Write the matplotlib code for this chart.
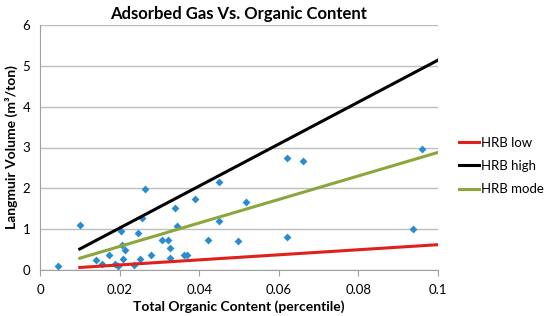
import matplotlib
matplotlib.use("Agg")
import matplotlib.pyplot as plt

plt.rcParams['font.family'] = ['Lato', 'DejaVu Sans']

toc = [0.0044, 0.0100, 0.0141, 0.0157, 0.0173, 0.0188, 0.0197, 0.0203, 0.0205, 0.0209,
       0.0214, 0.0235, 0.0247, 0.0251, 0.0257, 0.0264, 0.0279, 0.0307, 0.0321, 0.0327,
       0.0327, 0.0338, 0.0343, 0.0363, 0.0369, 0.0389, 0.0422, 0.0450, 0.0450, 0.0497,
       0.0517, 0.0621, 0.0621, 0.0661, 0.0937, 0.0959]
volume = [0.10, 1.09, 0.25, 0.14, 0.36, 0.14, 0.10, 0.96, 0.61, 0.28,
          0.49, 0.13, 0.90, 0.28, 1.27, 1.98, 0.36, 0.73, 0.73, 0.55,
          0.29, 1.51, 1.08, 0.37, 0.37, 1.75, 0.73, 2.16, 1.20, 0.70,
          1.67, 2.75, 0.81, 2.67, 1.00, 2.96]

line_x = [0.01, 0.1]
hrb_low = [0.062, 0.62]
hrb_high = [0.514, 5.14]
hrb_mode = [0.288, 2.88]

x_ticks = [0, 0.02, 0.04, 0.06, 0.08, 0.1]
x_tick_labels = ['0', '0.02', '0.04', '0.06', '0.08', '0.1']
y_ticks = [0, 1, 2, 3, 4, 5, 6]

fig = plt.figure(figsize=(5.45, 3.16), dpi=100)
ax = fig.add_axes([40/545, 1 - 270/316, 398/545, 245/316])

ax.scatter(toc, volume, marker='D', s=16, color='#2A8CD0', zorder=3, linewidths=0)
ax.plot(line_x, hrb_low, color='#E0201B', lw=2.2, label='HRB low', zorder=4)
ax.plot(line_x, hrb_high, color='#000000', lw=2.2, label='HRB high', zorder=4)
ax.plot(line_x, hrb_mode, color='#8BA63A', lw=2.2, label='HRB mode', zorder=4)

ax.set_xlim(0, 0.1)
ax.set_ylim(0, 6)
ax.set_xticks(x_ticks)
ax.set_xticklabels(x_tick_labels)
ax.set_yticks(y_ticks)
ax.grid(axis='y', color='#BEBEBE', lw=1)
ax.set_axisbelow(True)
for s in ['top', 'right']:
    ax.spines[s].set_visible(False)
for s in ['left', 'bottom']:
    ax.spines[s].set_color('#A0A0A0')
ax.tick_params(axis='y', length=0, labelsize=9.5, pad=7)
ax.tick_params(axis='x', length=4, color='#A0A0A0', labelsize=9.5, pad=6)

ax.set_title('Adsorbed Gas Vs. Organic Content', fontsize=12, fontweight='bold', pad=4)
ax.set_xlabel('Total Organic Content (percentile)', fontsize=10, fontweight='bold', labelpad=3)
ax.set_ylabel('Langmuir Volume (m³/ton)', fontsize=10, fontweight='bold', labelpad=3)

fig.legend(loc='center left', bbox_to_anchor=(459/545, 1 - 166/316), frameon=False,
           fontsize=9.5, handlelength=1.5, handletextpad=0.15, labelspacing=0.85,
           borderpad=0, borderaxespad=0)

fig.savefig('out.png', dpi=100)
